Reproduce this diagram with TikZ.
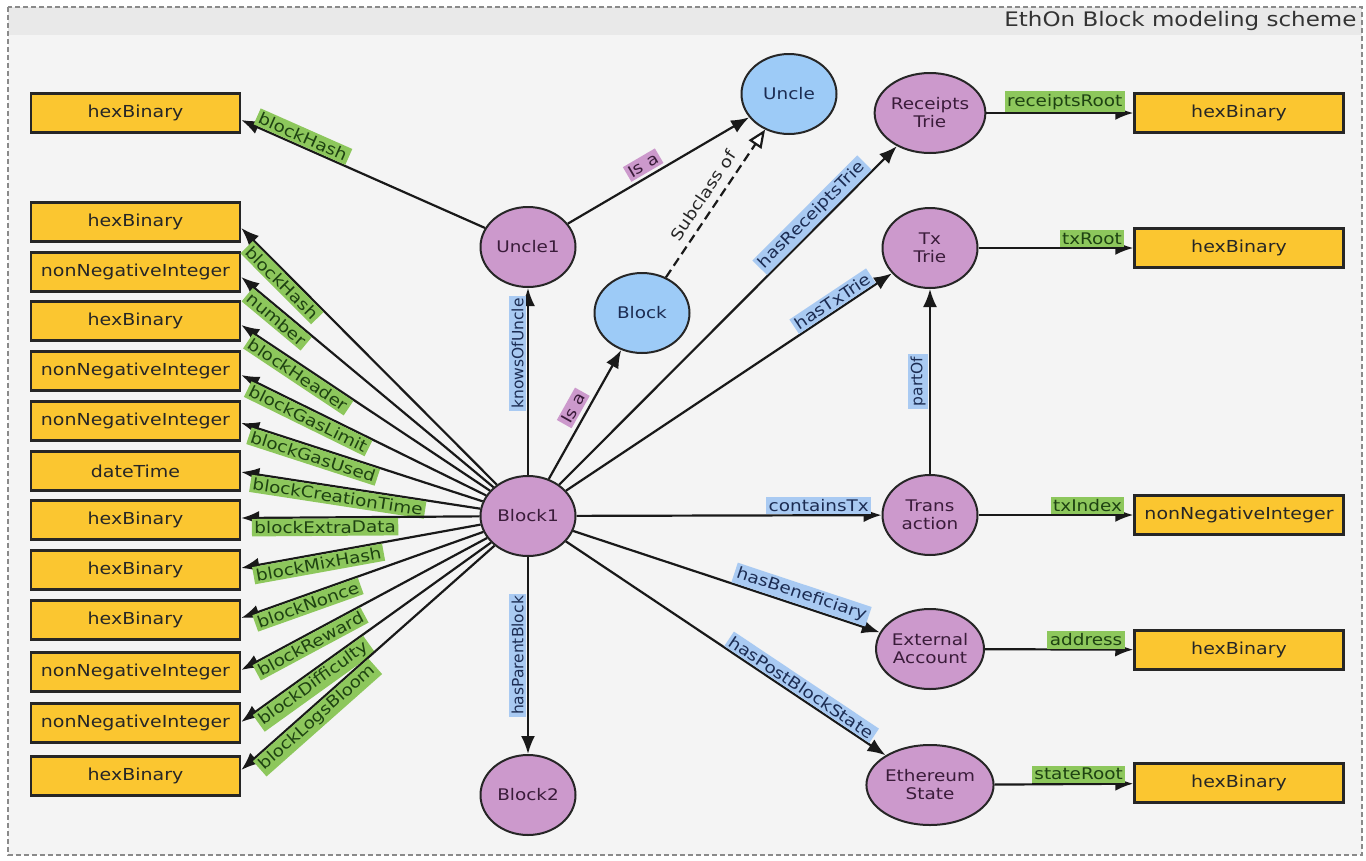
\documentclass[tikz,border=0pt]{standalone}
\usepackage{fontspec}
\setmainfont{DejaVu Sans}[FakeStretch=1.15]
\newfontfamily\uprightlabel{DejaVu Sans}
\usetikzlibrary{arrows.meta,shapes.geometric}

\definecolor{canvas}{HTML}{F4F4F4}
\definecolor{band}{HTML}{E9E9E9}
\definecolor{frame}{HTML}{8A8A8A}
\definecolor{literal}{HTML}{FBC630}
\definecolor{individual}{HTML}{CC99CC}
\definecolor{klass}{HTML}{9DCBF7}
\definecolor{propgreen}{HTML}{8DC75C}
\definecolor{propblue}{HTML}{A9CAF2}
\definecolor{proppink}{HTML}{CC99CC}
\definecolor{inkgreen}{HTML}{1E4212}
\definecolor{inkblue}{HTML}{1C2C52}
\definecolor{inkpurple}{HTML}{3A1C3A}

\tikzset{
  literalbox/.style={draw=black!85, line width=2.5pt, fill=literal,
    minimum width=209pt, minimum height=39pt, inner sep=0pt,
    font=\fontsize{16.5}{18}\selectfont, text=black!85},
  indnode/.style={ellipse, draw=black!85, line width=2pt, fill=individual,
    minimum width=95pt, minimum height=80pt, inner sep=0pt, align=center,
    font=\fontsize{16}{18}\selectfont, text=inkpurple},
  clsnode/.style={indnode, fill=klass, text=inkblue},
  rel/.style={line width=2.2pt, draw=black!90, -{Latex[length=18pt,width=14pt]}},
  subrel/.style={line width=2.2pt, draw=black!90, dash pattern=on 9pt off 5pt,
    -{Triangle[open, length=18pt, width=15pt, fill=white]}},
  glabel/.style={fill=propgreen, text=inkgreen, inner sep=2.5pt,
    font=\fontsize{16}{17}\selectfont},
  blabel/.style={fill=propblue, text=inkblue, inner sep=2.5pt,
    font=\fontsize{16}{17}\selectfont},
  plabel/.style={fill=proppink, text=inkpurple, inner sep=2.5pt,
    font=\fontsize{16}{17}\selectfont},
  vlabel/.style={rotate=90, anchor=south, outer sep=2pt,
    font=\uprightlabel\fontsize{15.5}{17}\selectfont},
}

\begin{document}
\begin{tikzpicture}[x=1pt,y=-1pt]
\useasboundingbox (0,0) rectangle (1366,860);

% frame with title band
\fill[canvas] (8,7) rectangle (1362,855);
\fill[band] (8,7) rectangle (1362,35);
\draw[frame, line width=1.4pt, dash pattern=on 5pt off 3pt] (8,7) rectangle (1362,855);
\node[anchor=east, font=\fontsize{20}{22}\selectfont, text=black!80] (title) at (1360,21) {EthOn Block modeling scheme};

% individuals and classes
\node[indnode] (B1) at (528,516) {Block1};
\node[indnode] (B2) at (528,795) {Block2};
\node[indnode] (U1) at (528,247) {Uncle1};
\node[clsnode] (UC) at (789,94) {Uncle};
\node[clsnode] (BC) at (642,313) {Block};
\node[indnode] (RT) at (930,113) {Receipts\\Trie};
\node[indnode] (TT) at (930,248) {Tx\\Trie};
\node[indnode] (TX) at (930,515) {Trans\\action};
\node[indnode] (EA) at (930,649) {External\\Account};
\node[indnode] (ES) at (930,785) {Ethereum\\State};

% literal values, left column
\node[literalbox] (L0)  at (135.5,113) {hexBinary};
\node[literalbox] (L1)  at (135.5,222) {hexBinary};
\node[literalbox] (L2)  at (135.5,272) {nonNegativeInteger};
\node[literalbox] (L3)  at (135.5,321) {hexBinary};
\node[literalbox] (L4)  at (135.5,371) {nonNegativeInteger};
\node[literalbox] (L5)  at (135.5,421) {nonNegativeInteger};
\node[literalbox] (L6)  at (135.5,471) {dateTime};
\node[literalbox] (L7)  at (135.5,520) {hexBinary};
\node[literalbox] (L8)  at (135.5,570) {hexBinary};
\node[literalbox] (L9)  at (135.5,620) {hexBinary};
\node[literalbox] (L10) at (135.5,672) {nonNegativeInteger};
\node[literalbox] (L11) at (135.5,723) {nonNegativeInteger};
\node[literalbox] (L12) at (135.5,776) {hexBinary};

% literal values, right column
\node[literalbox] (R1) at (1239,113) {hexBinary};
\node[literalbox] (R2) at (1239,248) {hexBinary};
\node[literalbox] (R3) at (1239,515) {nonNegativeInteger};
\node[literalbox] (R4) at (1239,650) {hexBinary};
\node[literalbox] (R5) at (1239,783) {hexBinary};

% uncle relations
\draw[rel] (U1) -- ([yshift=-7pt]L0.east)
  node[glabel, sloped, pos=0.955, anchor=south west] {blockHash};
\draw[rel] (U1) -- (UC)
  node[plabel, sloped, pos=0.45, anchor=south, outer sep=4pt] {Is a};
\draw[subrel] (BC) -- (UC)
  node[sloped, pos=0.5, anchor=south, outer sep=5pt, text=black!85,
       font=\fontsize{16}{17}\selectfont] {Subclass of};
\draw[rel] (B1) -- (U1)
  node[blabel, vlabel, pos=0.65] {knowsOfUncle};
\draw[rel] (B1) -- (BC)
  node[plabel, sloped, pos=0.5, anchor=south, outer sep=5pt] {Is a};
\draw[rel] (B1) -- (B2)
  node[blabel, vlabel, pos=0.5] {hasParentBlock};

% block header data properties
\draw[rel] (B1) -- ([yshift=-6pt]L1.east)
  node[glabel, sloped, pos=0.955, anchor=north west] {blockHash};
\draw[rel] (B1) -- ([yshift=-5pt]L2.east)
  node[glabel, sloped, pos=0.955, anchor=north west] {number};
\draw[rel] (B1) -- ([yshift=-4pt]L3.east)
  node[glabel, sloped, pos=0.955, anchor=north west] {blockHeader};
\draw[rel] (B1) -- ([yshift=-4pt]L4.east)
  node[glabel, sloped, pos=0.96, anchor=north west] {blockGasLimit};
\draw[rel] (B1) -- ([yshift=-2pt]L5.east)
  node[glabel, sloped, pos=0.96, anchor=north west] {blockGasUsed};
\draw[rel] (B1) -- ([yshift=-1pt]L6.east)
  node[glabel, sloped, pos=0.96, anchor=north west] {blockCreationTime};
\draw[rel] (B1) -- ([yshift=2pt]L7.east)
  node[glabel, sloped, pos=0.96, anchor=north west] {blockExtraData};
\draw[rel] (B1) -- ([yshift=2pt]L8.east)
  node[glabel, sloped, pos=0.96, anchor=north west] {blockMixHash};
\draw[rel] (B1) -- ([yshift=2pt]L9.east)
  node[glabel, sloped, pos=0.96, anchor=north west] {blockNonce};
\draw[rel] (B1) -- ([yshift=2pt]L10.east)
  node[glabel, sloped, pos=0.96, anchor=north west] {blockReward};
\draw[rel] (B1) -- ([yshift=1pt]L11.east)
  node[glabel, sloped, pos=0.96, anchor=north west] {blockDifficulty};
\draw[rel] (B1) -- ([yshift=6pt]L12.east)
  node[glabel, sloped, pos=0.96, anchor=north west] {blockLogsBloom};

% object properties of the block
\draw[rel] (B1) -- (RT)
  node[blabel, sloped, pos=0.93, anchor=south east] {hasReceiptsTrie};
\draw[rel] (B1) -- (TT)
  node[blabel, sloped, pos=0.955, anchor=south east] {hasTxTrie};
\draw[rel] (B1) -- (TX)
  node[blabel, pos=0.97, anchor=south east] {containsTx};
\draw[rel] (B1) -- (EA)
  node[blabel, sloped, pos=0.955, anchor=south east] {hasBeneficiary};
\draw[rel] (B1) -- (ES)
  node[blabel, sloped, pos=0.95, anchor=south east] {hasPostBlockState};
\draw[rel] (TX) -- (TT)
  node[blabel, vlabel, pos=0.5] {partOf};

% data properties on the right
\draw[rel] (RT) -- (R1)
  node[glabel, pos=0.95, anchor=south east] {receiptsRoot};
\draw[rel] (TT) -- (R2)
  node[glabel, pos=0.95, anchor=south east] {txRoot};
\draw[rel] (TX) -- (R3)
  node[glabel, pos=0.95, anchor=south east] {txIndex};
\draw[rel] (EA) -- (R4)
  node[glabel, pos=0.95, anchor=south east] {address};
\draw[rel] (ES) -- (R5)
  node[glabel, pos=0.95, anchor=south east] {stateRoot};
\end{tikzpicture}
\end{document}
